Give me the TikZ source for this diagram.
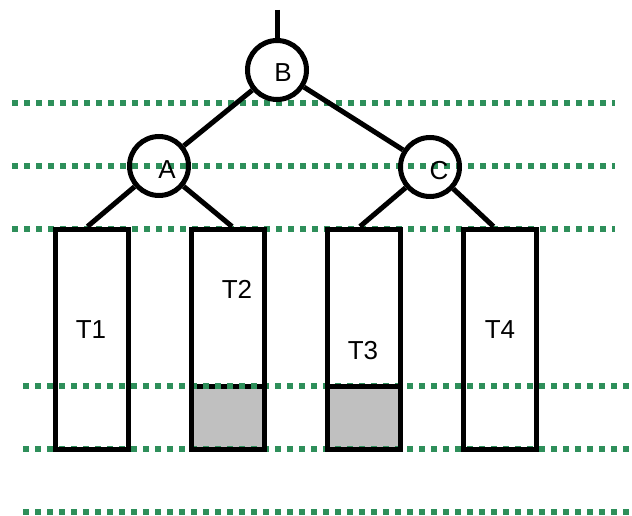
\documentclass[tikz,border=0pt]{standalone}
\usepackage{fontspec}
\setmainfont{Liberation Sans}
\usetikzlibrary{positioning}

\definecolor{levelgreen}{RGB}{46,143,90}
\definecolor{lowgray}{RGB}{192,192,192}

\begin{document}
\begin{tikzpicture}[x=1pt, y=-1pt, line width=5pt,
    font=\fontsize{26}{31}\selectfont,
    vertex/.style={circle, draw, inner sep=0pt, minimum size=59pt},
    subtree/.style={rectangle, draw, inner sep=0pt, minimum width=73pt, minimum height=220pt},
    level/.style={levelgreen, line width=6pt, dash pattern=on 6pt off 6pt}]
  \useasboundingbox (0,0) rectangle (632,516);
  % shaded bottoms of T2 and T3
  \fill[lowgray] (192,386) rectangle (264,449);
  \fill[lowgray] (328,386) rectangle (400,449);
  \draw (192,386) -- (264,386);
  % height levels
  \foreach \y in {103,166,229} \draw[level] (12,\y) -- (615,\y);
  \foreach \y in {386,449,512} \draw[level] (23,\y) -- (632,\y);
  % subtrees
  \node[subtree] (t1) at (91.5,339) {};
  \node[subtree] (t2) at (228,339) {};
  \node[subtree] (t3) at (364,339) {};
  \node[subtree] (t4) at (499.5,339) {};
  \draw (328,386) -- (400,386);
  \node (l1) at (91,330) {T1};
  \node (l2) at (237,289) {T2};
  \node (l3) at (363,351) {T3};
  \node (l4) at (500,330) {T4};
  % tree nodes
  \node[vertex, label={[shift={(6,3)}]center:B}] (b) at (277,70) {};
  \node[vertex, label={[shift={(8,4)}]center:A}] (a) at (159,166) {};
  \node[vertex, label={[shift={(9,4)}]center:C}] (c) at (430,167) {};
  \coordinate (root) at (277,10);
  \draw (root) -- (b);
  \draw (b) -- (a);
  \draw (b) -- (c);
  \draw (a) -- ([xshift=-4]t1.north);
  \draw (a) -- ([xshift=4]t2.north);
  \draw (c) -- ([xshift=-4]t3.north);
  \draw (c) -- ([xshift=-6]t4.north);
\end{tikzpicture}
\end{document}
